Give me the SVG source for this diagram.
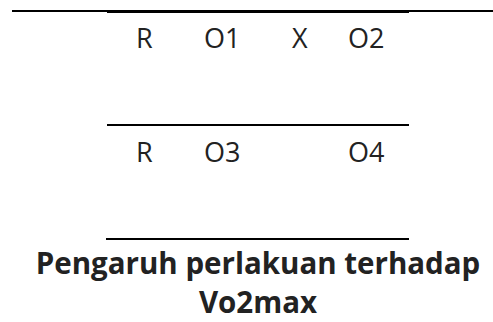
<svg xmlns="http://www.w3.org/2000/svg" width="493" height="322" viewBox="0 0 493 322">
<style>
.t{font-family:"Open Sans","Noto Sans",sans-serif;font-size:27px;fill:#222}
.b{font-family:"Open Sans","Noto Sans",sans-serif;font-size:29.5px;font-weight:bold;fill:#222;text-anchor:middle}
.l{stroke:#000;stroke-width:2}
</style>
<g id="lines">
<line class="l" x1="12" y1="11" x2="493" y2="11"/>
<line class="l" x1="107" y1="12" x2="409" y2="12"/>
<line class="l" x1="107" y1="125" x2="409" y2="125"/>
<line class="l" x1="106" y1="239" x2="409" y2="239"/>
</g>
<g id="row1">
<text class="t" x="136" y="48">R</text>
<text class="t" x="204" y="48">O1</text>
<text class="t" x="292" y="48">X</text>
<text class="t" x="348" y="48">O2</text>
</g>
<g id="row2">
<text class="t" x="136" y="162">R</text>
<text class="t" x="204" y="162">O3</text>
<text class="t" x="348" y="162">O4</text>
</g>
<g id="title">
<text class="b" x="258" y="274">Pengaruh perlakuan terhadap</text>
<text class="b" x="258" y="313">Vo2max</text>
</g>
</svg>
